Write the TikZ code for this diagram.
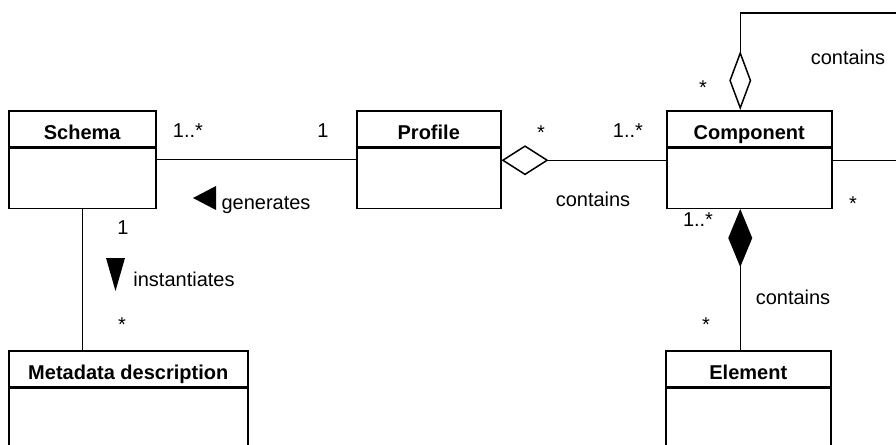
\documentclass[tikz,border=0pt]{standalone}
\usepackage{fontspec}
\setmainfont{Liberation Sans}
\usetikzlibrary{arrows.meta,positioning}
\tikzset{
  classname/.style={draw,line width=1.5pt,anchor=north west,inner sep=0pt,
    minimum height=36pt,text height=22pt,text depth=0pt,
    font=\fontsize{20}{24}\selectfont\bfseries},
  classbody/.style={draw,line width=1.5pt,inner sep=0pt,minimum height=60pt},
  assoc/.style={line width=1.5pt},
  lbl/.style={inner sep=0pt,text height=14pt,text depth=4pt,
    font=\fontsize{20}{24}\selectfont}
}
\begin{document}
\begin{tikzpicture}[x=1pt,y=-1pt]
      \useasboundingbox (0,0) rectangle (896,444);
      \clip (0,0) rectangle (896,444);
      \node[classname,minimum width=147pt] (schema) at (8,110) {Schema};
      \node[classbody,minimum width=147pt,below=0pt of schema] (schemabody) {};
      \node[classname,minimum width=144pt] (profile) at (356,110) {Profile};
      \node[classbody,minimum width=144pt,below=0pt of profile] (profilebody) {};
      \node[classname,minimum width=165pt] (component) at (666,110) {Component};
      \node[classbody,minimum width=165pt,below=0pt of component] (componentbody) {};
      \node[classname,minimum width=239pt] (metadata) at (8,350) {Metadata description};
      \node[classbody,minimum width=239pt,minimum height=100pt,below=0pt of metadata] (metadatabody) {};
      \node[classname,minimum width=165pt] (element) at (665,350) {Element};
      \node[classbody,minimum width=165pt,minimum height=100pt,below=0pt of element] (elementbody) {};
      \coordinate (loop) at (930,13);
      \begin{scope}[assoc]
        \draw ([yshift=19pt]schemabody.east) -- ([yshift=19pt]profilebody.west);
        \draw[{Diamond[open,length=47pt,width=30pt]}-] ([yshift=18pt]profilebody.east) -- ([yshift=18pt]componentbody.west);
        \draw[{Diamond[open,length=59pt,width=22pt]}-] ([xshift=-9pt]component.north) |- (loop) |- ([yshift=18pt]componentbody.east);
        \draw[{Diamond[length=58pt,width=24pt]}-] ([xshift=-9pt]componentbody.south) -- ([xshift=-9pt]componentbody.south |- element.north);
        \draw (schemabody.south) -- (schemabody.south |- metadata.north);
      \end{scope}
      \fill (216,186) -- (193,198) -- (216,210) -- cycle;
      \fill (106,258) -- (125,258) -- (115.5,291) -- cycle;
      \node[lbl] (sm) at (188,132) {1..*};
      \node[lbl] (ps) at (323,132) {1};
      \node[lbl] (pm) at (541,134) {*};
      \node[lbl] (cm) at (628,132) {1..*};
      \node[lbl] (gen) at (266,204) {generates};
      \node[lbl] (pc) at (593,201) {contains};
      \node[lbl] (cc) at (848,59) {contains};
      \node[lbl] (ct) at (703,89) {*};
      \node[lbl] (cr) at (853,205) {*};
      \node[lbl] (cb) at (698,221) {1..*};
      \node[lbl] (s1) at (123,229) {1};
      \node[lbl] (inst) at (184,281) {instantiates};
      \node[lbl] (mm) at (122,326) {*};
      \node[lbl] (ec) at (793,299) {contains};
      \node[lbl] (em) at (706,326) {*};
    \end{tikzpicture}
\end{document}
